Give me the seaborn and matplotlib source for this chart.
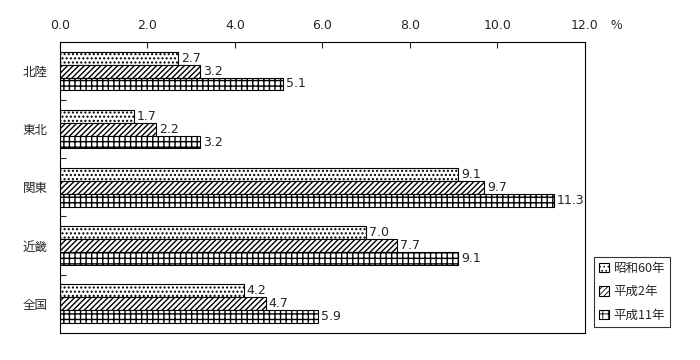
import pandas as pd
import numpy as np
import seaborn as sns
import matplotlib.pyplot as plt
from matplotlib.patches import Patch

sns.set_style('white')
plt.rcParams['font.family'] = ['Noto Sans CJK JP', 'DejaVu Sans']

regions = ['北陸', '東北', '関東', '近畿', '全国']
years = ['昭和60年', '平成2年', '平成11年']
s60 = [2.7, 1.7, 9.1, 7.0, 4.2]
h2 = [3.2, 2.2, 9.7, 7.7, 4.7]
h11 = [5.1, 3.2, 11.3, 9.1, 5.9]
hatches = ['....', '//////', '+++']

rows = []
for i, r in enumerate(regions):
    for y, vals in zip(years, [s60, h2, h11]):
        rows.append([r, y, vals[i]])
df = pd.DataFrame(rows, columns=['地域', '年', '値'])

fig = plt.figure(figsize=(7, 3.6), dpi=100)
ax = fig.add_axes([0.0857, 0.076, 0.75, 0.807])
sns.barplot(data=df, y='地域', x='値', hue='年', orient='h', ax=ax,
            width=0.66, palette=['white'] * 3, edgecolor='black', linewidth=0.8,
            legend=False)
plt.rcParams['hatch.linewidth'] = 0.6
for cont, h in zip(ax.containers, hatches):
    for bar in cont:
        bar.set_hatch(h)
        bar.set_facecolor('white')
        bar.set_edgecolor('black')
    ax.bar_label(cont, fmt='%.1f', padding=2, fontsize=9, family='DejaVu Sans')

ax.set_xlim(0, 12)
ax.set_ylim(4.5, -0.5)
ax.xaxis.tick_top()
ax.set_xticks(np.arange(0, 12.1, 2))
ax.set_xticklabels(['%.1f' % v for v in np.arange(0, 12.1, 2)], fontsize=9, family='DejaVu Sans')
ax.tick_params(axis='x', direction='in', length=4, width=0.8, pad=7, top=True, bottom=False)
ax.set_yticks(range(len(regions)))
ax.set_yticklabels(regions, fontsize=9)
ax.tick_params(axis='y', length=0, pad=9)
ax.set_yticks(np.arange(0.5, 4.5, 1), minor=True)
ax.tick_params(axis='y', which='minor', direction='in', length=4, width=0.8, left=True)
ax.set_xlabel('')
ax.set_ylabel('')
for sp in ax.spines.values():
    sp.set_color('black')
    sp.set_linewidth(0.8)
fig.text(0.872, 0.93, '%', fontsize=9, ha='left', va='center')

handles = [Patch(facecolor='white', edgecolor='black', hatch=h, linewidth=0.8) for h in hatches]
leg = fig.legend(handles, years, loc='lower left', bbox_to_anchor=(0.849, 0.092),
                 borderaxespad=0, fontsize=9, frameon=True, fancybox=False, edgecolor='black',
                 handlelength=0.8, handleheight=0.8, handletextpad=0.3,
                 borderpad=0.4, labelspacing=0.85)
leg.get_frame().set_linewidth(0.8)

plt.savefig('out.png')
